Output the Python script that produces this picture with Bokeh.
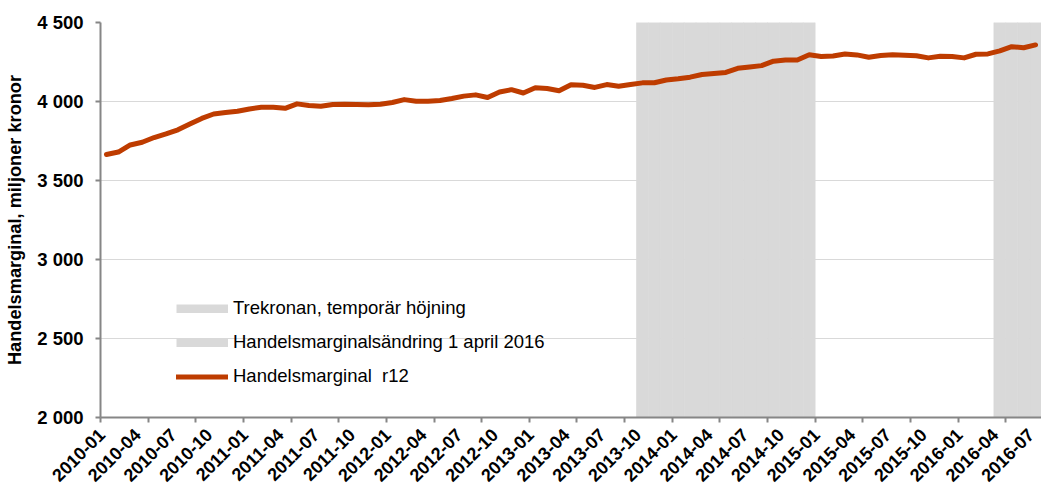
import math
from bokeh.plotting import figure
from bokeh.models import Range1d, FixedTicker, Legend, LegendItem
from bokeh.embed import file_html
from bokeh.resources import INLINE

# ---- data ----
months = [f"{y}-{m:02d}" for y in range(2010, 2017) for m in range(1, 13)][:79]

handelsmarginal = [
    3665, 3680, 3725, 3742, 3772, 3795, 3821, 3858, 3893, 3921,
    3930, 3938, 3953, 3963, 3963, 3957, 3985, 3975, 3970, 3981,
    3982, 3981, 3979, 3983, 3994, 4012, 4002, 4002, 4006, 4019,
    4034, 4042, 4025, 4060, 4075, 4054, 4087, 4082, 4068, 4106,
    4103, 4089, 4107, 4097, 4108, 4118, 4119, 4136, 4144, 4154,
    4171, 4177, 4184, 4210, 4219, 4227, 4255, 4262, 4263, 4296,
    4285, 4288, 4301, 4295, 4280, 4291, 4296, 4293, 4290, 4276,
    4286, 4285, 4276, 4299, 4301, 4320, 4347, 4340, 4358,
]

trekronan_period = ("2013-10", "2014-12")
andring_period = ("2016-04", "2016-07")

y_ticks = [2000, 2500, 3000, 3500, 4000, 4500]
y_tick_labels = ["2 000", "2 500", "3 000", "3 500", "4 000", "4 500"]
x_tick_labels = months[::3]

series_names = ["Trekronan, temporär höjning",
                "Handelsmarginalsändring 1 april 2016",
                "Handelsmarginal  r12"]

# ---- derived ----
xs = list(range(len(months)))


def flags(period):
    a, b = months.index(period[0]), months.index(period[1])
    return [1 if a <= i <= b else 0 for i in xs]


trek_flags = flags(trekronan_period)
andr_flags = flags(andring_period)

LINE_COLOR = "#be3c00"
SHADE = "#d9d9d9"
AXIS_GREY = "#868686"
FONT = "Liberation Sans"

p = figure(width=1041, height=490, output_backend="svg", toolbar_location=None,
           x_range=Range1d(-0.5, len(months) - 0.5), y_range=Range1d(2000, 4500),
           min_border_left=100, min_border_right=0, min_border_top=22, min_border_bottom=73)
p.extra_y_ranges = {"flag": Range1d(0, 1)}
p.outline_line_color = None
p.background_fill_color = "white"
p.border_fill_color = "white"

# shaded periods
p.vbar(x=xs, top=trek_flags, bottom=0, width=1, y_range_name="flag",
       fill_color=SHADE, line_color=SHADE, line_width=0.6)
p.vbar(x=xs, top=andr_flags, bottom=0, width=1, y_range_name="flag",
       fill_color=SHADE, line_color=SHADE, line_width=0.6)

# main line
main = p.line(xs, handelsmarginal, line_color=LINE_COLOR, line_width=5,
              line_join="round", line_cap="round")

# legend key renderers (draw nothing visible: NaN values)
nan = float("nan")
k1 = p.line(x=[nan, nan], y=[nan, nan], line_color=SHADE, line_width=9, line_cap="butt")
k2 = p.line(x=[nan, nan], y=[nan, nan], line_color=SHADE, line_width=9, line_cap="butt")

legend = Legend(items=[LegendItem(label=series_names[0], renderers=[k1]),
                       LegendItem(label=series_names[1], renderers=[k2]),
                       LegendItem(label=series_names[2], renderers=[main])],
                location=(76, 30), padding=0, margin=0, spacing=12,
                glyph_width=52, glyph_height=9, label_height=21, label_standoff=5,
                label_text_font=FONT, label_text_font_size="18.5px",
                label_text_color="black",
                border_line_color=None, background_fill_alpha=0)
p.add_layout(legend)

# grid
p.xgrid.visible = False
p.ygrid.ticker = FixedTicker(ticks=y_ticks)
p.ygrid.grid_line_color = SHADE
p.ygrid.grid_line_width = 1

# y axis
ya = p.yaxis[0]
ya.ticker = FixedTicker(ticks=y_ticks)
ya.major_label_overrides = {t: l for t, l in zip(y_ticks, y_tick_labels)}
ya.axis_label = "Handelsmarginal, miljoner kronor"
ya.axis_label_text_font = FONT
ya.axis_label_text_font_style = "bold"
ya.axis_label_text_font_size = "18.2px"
ya.axis_label_text_color = "black"
ya.axis_label_standoff = 9
ya.major_label_text_font = FONT
ya.major_label_text_font_style = "bold"
ya.major_label_text_font_size = "18.5px"
ya.major_label_text_color = "black"
ya.major_label_standoff = 12
ya.axis_line_color = AXIS_GREY
ya.axis_line_width = 2
ya.major_tick_line_color = AXIS_GREY
ya.major_tick_line_width = 2
ya.major_tick_out = 5
ya.major_tick_in = 0
ya.minor_tick_line_color = None

# x axis: labels every 3 months (anchored just left of the month centre),
# tick marks every 4 months at category boundaries
xa = p.xaxis[0]
label_pos = [i - 0.4 for i in xs[::3]]
boundaries = [i - 0.5 for i in range(0, len(months) + 1, 4)]
xa.ticker = FixedTicker(ticks=label_pos, minor_ticks=boundaries)
xa.major_label_overrides = {t: l for t, l in zip(label_pos, x_tick_labels)}
xa.major_label_orientation = math.pi / 4
xa.major_label_text_font = FONT
xa.major_label_text_font_style = "bold"
xa.major_label_text_font_size = "18px"
xa.major_label_text_color = "black"
xa.major_label_standoff = 9
xa.major_tick_line_color = None
xa.major_tick_out = 0
xa.major_tick_in = 0
xa.minor_tick_line_color = AXIS_GREY
xa.minor_tick_line_width = 2
xa.minor_tick_out = 5
xa.minor_tick_in = 0
xa.axis_line_color = AXIS_GREY
xa.axis_line_width = 2

open("out.html", "w").write(file_html(p, INLINE))
